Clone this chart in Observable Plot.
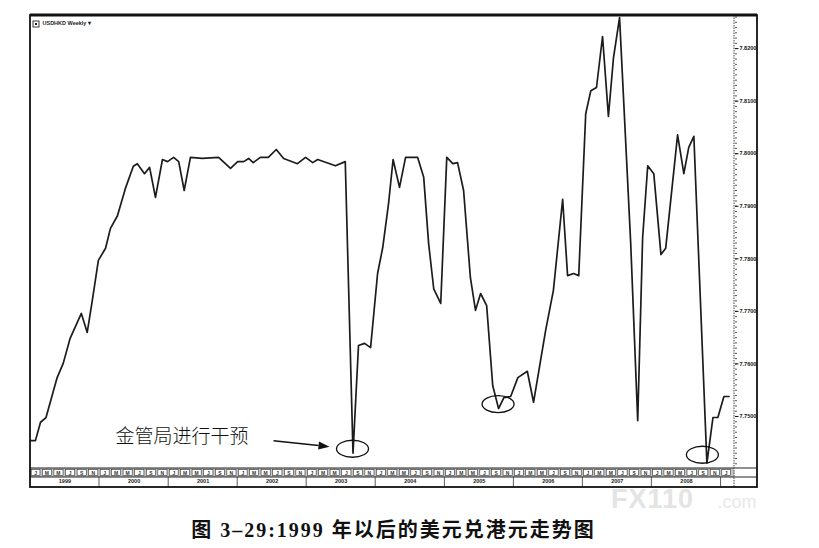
<!DOCTYPE html>
<html>
<head>
<meta charset="utf-8">
<script src="https://cdn.jsdelivr.net/npm/d3@7"></script>
<script src="https://cdn.jsdelivr.net/npm/@observablehq/plot@0.6"></script>
<style>
  html, body { margin: 0; padding: 0; background: #fff; }
  #wrap { position: relative; width: 819px; height: 548px; overflow: hidden; }
  #chart { position: absolute; left: 0; top: 0; }
  #caption {
    position: absolute; left: 0; width: 819px; top: 518px; text-align: center;
    padding-right: 32px; box-sizing: border-box;
    font-family: "Liberation Serif", "Noto Sans CJK SC", serif;
    font-weight: bold; font-size: 20px; line-height: 24px; letter-spacing: 2px; color: #111;
  }
</style>
</head>
<body>
<div id="wrap">
  <div id="chart"></div>
  <div id="caption">图 3–29:1999 年以后的美元兑港元走势图</div>
</div>
<script>
// ---- data ----
const dates = [
  "1999-01-01","1999-01-27","1999-02-23","1999-03-24","1999-05-22","1999-06-23","1999-07-29","1999-09-27","1999-10-28","1999-11-24","1999-12-26",
  "2000-02-02","2000-02-28","2000-04-05","2000-05-17","2000-06-28","2000-07-19","2000-08-26","2000-09-22","2000-10-23","2000-11-29","2000-12-26",
  "2001-01-27","2001-02-23","2001-03-24","2001-04-26","2001-06-28","2001-09-22","2001-11-24",
  "2002-01-01","2002-02-02","2002-02-28","2002-03-24","2002-05-01","2002-06-12","2002-07-24","2002-09-01","2002-11-13","2002-12-26",
  "2003-02-02","2003-02-28","2003-06-02","2003-07-24","2003-09-03","2003-10-02","2003-11-03","2003-12-05",
  "2004-01-11","2004-02-07","2004-03-09","2004-04-02","2004-05-06","2004-06-07","2004-08-10","2004-09-11","2004-10-07","2004-11-03","2004-12-10",
  "2005-01-11","2005-02-12","2005-03-09","2005-04-10","2005-05-16","2005-06-12","2005-07-09","2005-08-10","2005-09-11","2005-10-12","2005-11-09","2005-12-15",
  "2006-01-22","2006-03-13","2006-04-15","2006-06-18","2006-07-29","2006-09-16","2006-10-12","2006-11-13","2006-12-10",
  "2007-01-16","2007-02-12","2007-03-14","2007-04-15","2007-05-16","2007-06-12","2007-07-14","2007-09-11","2007-10-18","2007-11-13","2007-12-10",
  "2008-01-11","2008-02-18","2008-03-14","2008-05-16","2008-06-18","2008-07-14","2008-08-10","2008-10-18","2008-11-19","2008-12-15",
  "2009-01-16","2009-02-12"
];
const rates = [
  7.7454,7.7454,7.7489,7.7498,7.7574,7.7601,7.7648,7.7696,7.7660,7.7721,7.7797,
  7.7820,7.7858,7.7882,7.7934,7.7976,7.7981,7.7962,7.7974,7.7917,7.7989,7.7985,
  7.7993,7.7985,7.7930,7.7993,7.7991,7.7993,7.7972,
  7.7985,7.7985,7.7991,7.7983,7.7993,7.7993,7.8008,7.7991,7.7981,7.7993,
  7.7983,7.7989,7.7977,7.7985,7.7430,7.7635,7.7639,7.7631,
  7.7772,7.7821,7.7905,7.7989,7.7936,7.7993,7.7993,7.7955,7.7829,7.7743,7.7715,
  7.7993,7.7981,7.7983,7.7930,7.7764,7.7702,7.7734,7.7711,7.7559,7.7515,7.7536,7.7538,
  7.7574,7.7586,7.7527,7.7664,7.7740,7.7913,7.7768,7.7772,7.7768,
  7.8076,7.8120,7.8126,7.8223,7.8071,7.8183,7.8259,7.7829,7.7492,7.7840,7.7977,
  7.7962,7.7808,7.7820,7.8036,7.7962,7.8012,7.8033,7.7411,7.7498,7.7498,
  7.7538,7.7538
];
const yTickValues = [7.75, 7.76, 7.77, 7.78, 7.79, 7.80, 7.81, 7.82];
const yearLabels = ["1999","2000","2001","2002","2003","2004","2005","2006","2007","2008"];
const cellLetters = ["J","M","M","J","S","N"];
const seriesTitle = "USDHKD Weekly ▾";
const annotationText = "金管局进行干预";
const circledDates = ["2003-09-03","2005-10-12","2008-10-18"];
const watermarkMain = "FX110";
const watermarkTail = ".com";

// ---- build ----
const series = dates.map((d, i) => ({date: new Date(d), rate: rates[i]}));
const circled = series.filter(d => circledDates.includes(d.date.toISOString().slice(0, 10)));
const xDomain = [new Date("1999-01-01"), new Date("2009-03-13")];
const yDomain = [7.7401, 7.8263];
const minorTicks = d3.range(7741, 7827).map(d => d / 1000);

const chart = Plot.plot({
  width: 819,
  height: 510,
  marginLeft: 30,
  marginTop: 15,
  marginRight: 85,
  marginBottom: 42,
  style: {fontFamily: "'Liberation Sans', Arial, sans-serif", background: "transparent", overflow: "visible", color: "#111"},
  x: {type: "utc", domain: xDomain, axis: null},
  y: {domain: yDomain, axis: null},
  marks: [
    Plot.axisY({anchor: "right", label: null, ticks: minorTicks, tickSize: 2, tickFormat: () => "", stroke: "#555"}),
    Plot.axisY({anchor: "right", label: null, ticks: yTickValues, tickSize: 3.5, tickPadding: 1.5,
      tickFormat: d3.format(".4f"), fontSize: 5.5, fontWeight: "bold"}),
    Plot.line(series, {x: "date", y: "rate", stroke: "#1c1c1c", strokeWidth: 1.7, strokeLinejoin: "round"}),
    Plot.text(yearLabels, {x: d => new Date(`${d}-07-02`), frameAnchor: "bottom", dy: 14,
      fontSize: 5.5, fontWeight: "bold", fill: "#222"}),
    Plot.text([circled[0]], {x: "date", y: "rate", text: () => annotationText, dx: -171, dy: -16,
      fontSize: 19, fontFamily: "'Noto Sans CJK SC', sans-serif", fontWeight: 300, fill: "#111"}),
    Plot.text([seriesTitle], {frameAnchor: "top-left", dx: 12, dy: 6, fontSize: 5.5, fontWeight: "bold", fill: "#222"})
  ]
});
document.getElementById("chart").appendChild(chart);

// ---- decorations using the plot's own scales ----
const svg = d3.select(chart);
const sx = d => chart.scale("x").apply(d);
const sy = v => chart.scale("y").apply(v);
const L = 30, T = 15, PR = sx(xDomain[1]), PB = sy(yDomain[0]);
const OR = PR + 23, ROW = PB + 9, OB = PB + 19;

// faint watermark below the frame, behind everything
const wm = svg.insert("g", ":first-child").attr("fill", "#e4e4e4").attr("font-family", "'Liberation Sans', Arial, sans-serif").attr("font-weight", "bold");
wm.append("text").attr("x", 652).attr("y", 508).attr("font-size", 27).attr("textLength", 82).text(watermarkMain);
wm.append("text").attr("x", 737).attr("y", 508).attr("font-size", 18).attr("font-weight", "normal").attr("fill", "#e8e8e8").text(watermarkTail);

const g = svg.append("g");
// band: month cells row
g.append("rect").attr("x", L).attr("y", PB).attr("width", PR - L).attr("height", ROW - PB).attr("fill", "#c4c4c4");
const cells = d3.utcMonth.every(2).range(new Date("1999-01-01"), new Date("2009-02-01"));
cells.forEach(c => {
  const x1 = sx(c), x2 = sx(d3.utcMonth.offset(c, 2));
  g.append("rect").attr("x", x1 + 1.2).attr("y", PB + 1.6).attr("width", Math.max(0, Math.min(x2, PR) - x1 - 2.4))
    .attr("height", ROW - PB - 3.2).attr("fill", "#fff").attr("stroke", "#333").attr("stroke-width", 0.6);
  g.append("text").attr("x", (x1 + Math.min(x2, PR)) / 2).attr("y", (PB + ROW) / 2 + 2)
    .attr("text-anchor", "middle").attr("font-size", 5).attr("font-weight", "bold").attr("fill", "#333")
    .text(cellLetters[c.getUTCMonth() / 2]);
});
// year dividers
d3.utcYear.range(new Date("2000-01-01"), xDomain[1]).forEach(y => {
  g.append("line").attr("x1", sx(y)).attr("x2", sx(y)).attr("y1", ROW).attr("y2", OB).attr("stroke", "#333").attr("stroke-width", 0.8);
});
// horizontal band lines
[PB, ROW].forEach(y => g.append("line").attr("x1", L).attr("x2", OR).attr("y1", y).attr("y2", y).attr("stroke", "#222").attr("stroke-width", 1.2));
// plot right edge (dotted)
g.append("line").attr("x1", PR).attr("x2", PR).attr("y1", T).attr("y2", OB).attr("stroke", "#444").attr("stroke-width", 1).attr("stroke-dasharray", "1.5,1");
// outer frame
g.append("rect").attr("x", L).attr("y", T).attr("width", OR - L).attr("height", OB - T).attr("fill", "none").attr("stroke", "#111").attr("stroke-width", 1.8);
g.append("line").attr("x1", L).attr("x2", OR).attr("y1", T).attr("y2", T).attr("stroke", "#111").attr("stroke-width", 3);
// header icon
g.append("rect").attr("x", L + 3).attr("y", T + 6).attr("width", 6).attr("height", 6).attr("fill", "#fff").attr("stroke", "#222").attr("stroke-width", 0.9);
g.append("rect").attr("x", L + 5).attr("y", T + 8).attr("width", 2).attr("height", 2).attr("fill", "#222");

// circles around the lows
circled.forEach((d, i) => {
  g.append("ellipse").attr("cx", sx(d.date) - (i === 2 ? 4 : 0)).attr("cy", sy(d.rate) - (i === 2 ? 8 : 4))
    .attr("rx", 16).attr("ry", 8.5).attr("fill", "none").attr("stroke", "#111").attr("stroke-width", 1.3);
});
// arrow pointing at the first low
const ax = sx(circled[0].date), ay = sy(circled[0].rate);
const x1 = ax - 79, y1 = ay - 12, x2 = ax - 23, y2 = ay - 6;
const ang = Math.atan2(y2 - y1, x2 - x1), hl = 11, hw = 4;
const bx = x2 - hl * Math.cos(ang), by = y2 - hl * Math.sin(ang);
g.append("line").attr("x1", x1).attr("y1", y1).attr("x2", bx).attr("y2", by).attr("stroke", "#111").attr("stroke-width", 1.5);
g.append("path").attr("d", `M${x2},${y2}L${bx - hw * Math.sin(ang)},${by + hw * Math.cos(ang)}L${bx + hw * Math.sin(ang)},${by - hw * Math.cos(ang)}Z`).attr("fill", "#111");
</script>
</body>
</html>
